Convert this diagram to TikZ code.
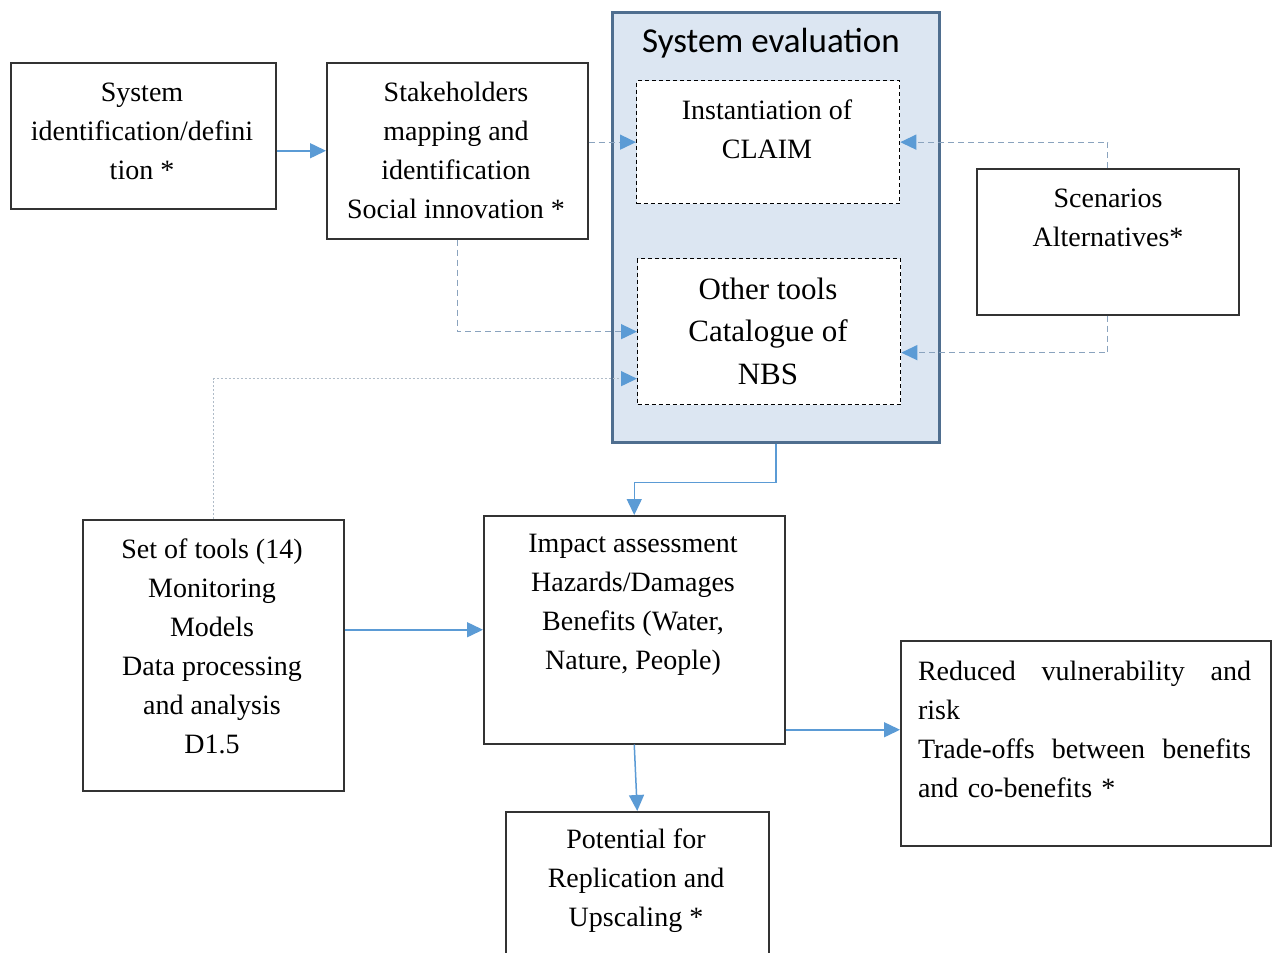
\documentclass[tikz,border=0pt]{standalone}
\usepackage{fontspec}
\setmainfont{Liberation Serif}
\newfontfamily\titlefont{Carlito}
\usetikzlibrary{arrows.meta}
\definecolor{arrowblue}{HTML}{5B9BD5}
\definecolor{linkgray}{HTML}{8AA3BE}
\definecolor{dotgray}{HTML}{B0BCC8}
\definecolor{evalfill}{HTML}{DCE6F2}
\definecolor{evaledge}{HTML}{4F6E8F}
\begin{document}
\begin{tikzpicture}[x=1pt,y=-1pt,
  box/.style={draw=black!80, line width=1.5pt, fill=white, inner sep=0pt, anchor=north west},
  dbox/.style={draw=black, dash pattern=on 4pt off 3pt, line width=1.3pt, fill=white, inner sep=0pt, anchor=north west},
  txt/.style={align=center, font=\fontsize{28}{39}\selectfont, inner sep=0pt},
  tip/.style={-{Triangle[length=16pt,width=15pt,fill=arrowblue,color=arrowblue]}},
  flow/.style={tip, draw=arrowblue, line width=1.5pt},
  link/.style={tip, draw=linkgray, line width=1.3pt, dash pattern=on 6pt off 4pt},
  dotlink/.style={tip, draw=dotgray, line width=1.3pt, dash pattern=on 2pt off 2pt}]
\useasboundingbox (0,0) rectangle (1275,953);
\fill[white] (0,0) rectangle (1275,953);

% system evaluation frame
\node[draw=evaledge, fill=evalfill, line width=2.5pt, inner sep=0pt, anchor=north west,
      minimum width=327pt, minimum height=430pt] (E) at (611,11) {};
\node[font=\titlefont\fontsize{35}{40}\selectfont, inner sep=0pt] (Et) at (771,43) {System evaluation};

% boxes
\node[box, minimum width=265pt, minimum height=146pt] (A) at (10,62) {};
\node[box, minimum width=261pt, minimum height=176pt] (B) at (326,62) {};
\node[dbox, minimum width=263pt, minimum height=123pt] (I1) at (636,80) {};
\node[dbox, minimum width=263pt, minimum height=146pt] (I2) at (637,258) {};
\node[box, minimum width=262pt, minimum height=146pt] (S) at (976,168) {};
\node[box, minimum width=261pt, minimum height=271pt] (T) at (82,519) {};
\node[box, minimum width=301pt, minimum height=228pt] (IA) at (483,515) {};
\node[box, minimum width=370pt, minimum height=205pt] (R) at (900,640) {};
\node[box, minimum width=263pt, minimum height=160pt] (P) at (505,811) {};

% texts
\node[txt] (At) at (142,131) {System\\identification/defini\\tion *};
\node[txt] (Bt) at (456,150) {Stakeholders\\mapping and\\identification\\Social innovation *};
\node[txt] (I1t) at (767,129) {Instantiation of\\CLAIM};
\node[txt, font=\fontsize{31}{42.5}\selectfont] (I2t) at (768,331) {Other tools\\Catalogue of\\NBS};
\node[txt] (St) at (1108,218) {Scenarios\\Alternatives*};
\node[txt] (Tt) at (212,646) {Set of tools (14)\\Monitoring\\Models\\Data processing\\and analysis\\D1.5};
\node[txt] (IAt) at (633,605) {Impact assessment\\Hazards/Damages\\Benefits (Water,\\Nature, People)};
\node[txt] (Pt) at (636,881) {Potential for\\Replication and\\Upscaling *};
\node[txt, align=left, text width=333pt] (Rt) at (1084.5,729)
  {\makebox[333pt][l]{Reduced\hfill vulnerability\hfill and}\\risk\\
   \makebox[333pt][l]{Trade-offs\hfill between\hfill benefits}\\and co-benefits *};

% connectors
\coordinate (r1) at ([yshift=13.5pt]R.west);
\draw[flow] (A.east |- B.west) -- (B.west);
\draw[link] (B.east |- I1.west) -- (I1.west);
\draw[link] (B.south) |- (I2.west);
\draw[link] (S.north) |- (I1.east);
\draw[link] (S.south) |- ([yshift=-21pt]I2.east);
\draw[dotlink] (T.north) |- ([yshift=-47pt]I2.west);
\draw[flow] (E.south) -- ++(0,39) -| (IA.north);
\draw[flow] (T.east |- IA.west) -- (IA.west);
\draw[flow] (IA.east |- r1) -- (r1);
\draw[flow] (IA.south) -- (P.north);
\end{tikzpicture}
\end{document}
